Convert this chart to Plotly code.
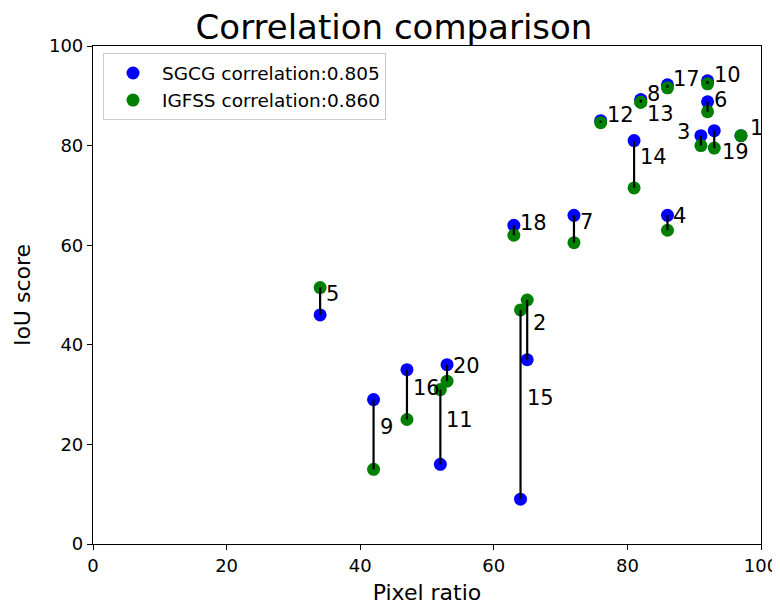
import plotly.graph_objects as go

# Data
labels = [str(i) for i in range(1, 21)]
pixel_ratio = [97, 65, 91, 86, 34, 92, 72, 82, 42, 92, 52, 76, 82, 81, 64, 47, 86, 63, 93, 53]
sgcg_iou = [82, 37, 82, 66, 46, 88.8, 66, 89.2, 29, 93, 16, 85, 89.2, 81, 9, 35, 92.2, 64, 83, 36]
igfss_iou = [82, 49, 80, 63, 51.5, 86.8, 60.5, 88.7, 15, 92.4, 31, 84.6, 88.7, 71.5, 47, 25, 91.6, 62, 79.5, 32.7]
sgcg_name = "SGCG correlation:0.805"
igfss_name = "IGFSS correlation:0.860"
axis_ticks = [0, 20, 40, 60, 80, 100]

FONT = "DejaVu Sans"

fig = go.Figure()
fig.add_trace(go.Scatter(x=pixel_ratio, y=sgcg_iou, mode="markers", name=sgcg_name,
                         marker=dict(color="blue", size=13)))
fig.add_trace(go.Scatter(x=pixel_ratio, y=igfss_iou, mode="markers", name=igfss_name,
                         marker=dict(color="green", size=13)))

lx, ly = [], []
for x, a, b in zip(pixel_ratio, sgcg_iou, igfss_iou):
    lx += [x, x, None]
    ly += [a, b, None]
fig.add_trace(go.Scatter(x=lx, y=ly, mode="lines", line=dict(color="black", width=2.2),
                         showlegend=False, hoverinfo="skip"))

# label offsets (pixels) - default right/up of the segment midpoint
offsets = {"1": (7, 8, "left"), "3": (-9, 9, "right"), "13": (4, -13, "left"),
           "19": (6, -13, "left")}
for lab, x, a, b in zip(labels, pixel_ratio, sgcg_iou, igfss_iou):
    xs, ys, anc = offsets.get(lab, (4, 7, "left"))
    fig.add_annotation(x=x, y=(a + b) / 2, text=lab, showarrow=False,
                       xanchor=anc, yanchor="middle", xshift=xs, yshift=ys,
                       font=dict(family=FONT, size=21, color="black"))

axis_common = dict(range=[0, 100], tickvals=axis_ticks, showgrid=False, zeroline=False,
                   showline=True, linecolor="black", linewidth=1.2, mirror=True,
                   ticks="outside", ticklen=5, tickwidth=1.2, tickcolor="black",
                   automargin=False,
                   tickfont=dict(family=FONT, size=18, color="black"))

fig.update_layout(
    width=772, height=597, autosize=False,
    margin=dict(l=85, r=19, t=38, b=61),
    plot_bgcolor="white", paper_bgcolor="white",
    title=dict(text="Correlation comparison", x=0.5, xanchor="center",
               y=1 - 19 / 597, yanchor="middle", yref="container",
               font=dict(family=FONT, size=34, color="black")),
    xaxis=dict(axis_common, title=dict(text="Pixel ratio", standoff=13,
                                       font=dict(family=FONT, size=22, color="black"))),
    yaxis=dict(axis_common, title=dict(text="IoU score", standoff=12,
                                       font=dict(family=FONT, size=22, color="black"))),
    legend=dict(x=0.015, y=0.985, xanchor="left", yanchor="top", itemwidth=48,
                tracegroupgap=0,
                bordercolor="#cccccc", borderwidth=1, bgcolor="white",
                font=dict(family=FONT, size=18.5, color="black")),
    showlegend=True,
)

fig.write_html("out.html")
